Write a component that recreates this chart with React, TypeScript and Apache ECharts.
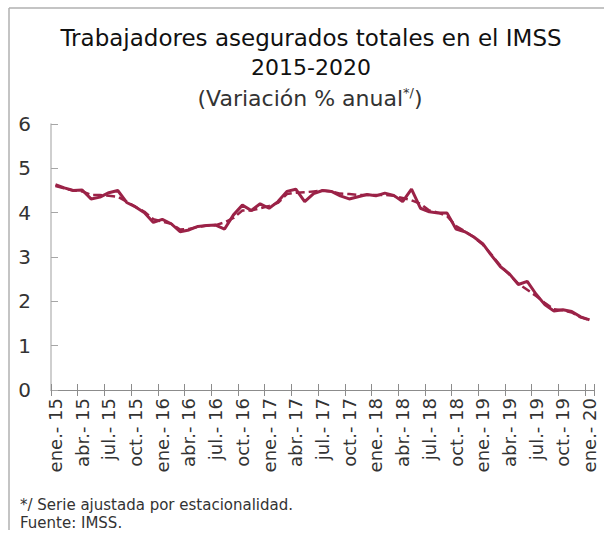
import React, { useEffect, useRef } from "react";
import * as echarts from "echarts";

const monthNames = ["ene.", "feb.", "mar.", "abr.", "may.", "jun.", "jul.", "ago.", "sep.", "oct.", "nov.", "dic."];
const years = ["15", "16", "17", "18", "19", "20"];
const categories: string[] = [];
years.forEach((y) => monthNames.forEach((m) => categories.push(m + "- " + y)));
const cats = categories.slice(0, 61);

const original = [
  4.63, 4.56, 4.5, 4.51, 4.31, 4.35, 4.45, 4.5, 4.23, 4.13, 4.0, 3.78,
  3.85, 3.75, 3.57, 3.61, 3.69, 3.71, 3.72, 3.63, 3.95, 4.17, 4.05, 4.2,
  4.1, 4.25, 4.48, 4.53, 4.25, 4.43, 4.5, 4.48, 4.38, 4.31, 4.36, 4.41,
  4.38, 4.44, 4.39, 4.25, 4.53, 4.1, 4.02, 3.99, 3.99, 3.63, 3.57, 3.45,
  3.3, 3.03, 2.78, 2.62, 2.38, 2.45, 2.16, 1.92, 1.78, 1.81, 1.77, 1.65,
  1.58,
];

const adjusted = [
  4.6, 4.55, 4.5, 4.48, 4.4, 4.4, 4.38, 4.36, 4.25, 4.13, 4.02, 3.85,
  3.8, 3.75, 3.62, 3.63, 3.68, 3.71, 3.72, 3.78, 3.88, 4.05, 4.05, 4.1,
  4.15, 4.22, 4.42, 4.45, 4.46, 4.48, 4.5, 4.48, 4.43, 4.42, 4.4, 4.4,
  4.4, 4.4, 4.38, 4.33, 4.28, 4.2, 4.05, 4.0, 3.92, 3.7, 3.58, 3.45,
  3.28, 3.05, 2.8, 2.6, 2.4, 2.26, 2.12, 1.96, 1.82, 1.8, 1.75, 1.64,
  1.58,
];

const yTicks = [0, 1, 2, 3, 4, 5, 6];

const FONT = "DejaVu Sans";
const COLOR = "#9b2247";

export default function App() {
  const ref = useRef<HTMLDivElement>(null);
  useEffect(() => {
    if (!ref.current) return;
    const chart = echarts.init(ref.current, null, { renderer: "svg" });
    chart.setOption({
      animation: false,
      textStyle: { fontFamily: FONT },
      grid: { left: 51, right: 10, top: 124, height: 266, containLabel: false },
      graphic: [
        { type: "line", shape: { x1: 9, y1: 8, x2: 604, y2: 8 }, style: { stroke: "#b0b0b0", lineWidth: 1.5 } },
        { type: "line", shape: { x1: 9, y1: 8, x2: 9, y2: 530 }, style: { stroke: "#b0b0b0", lineWidth: 1.5 } },
        {
          type: "text", x: 311, y: 38,
          style: { text: "Trabajadores asegurados totales en el IMSS", font: `23px "${FONT}"`, fill: "#111", align: "center", verticalAlign: "middle" },
        },
        {
          type: "text", x: 311, y: 67,
          style: { text: "2015-2020", font: `22px "${FONT}"`, fill: "#111", align: "center", verticalAlign: "middle" },
        },
        {
          type: "text", x: 310, y: 98,
          style: {
            text: "(Variación % anual{sup|*/}{p|)}",
            font: `22px "${FONT}"`, fill: "#333", align: "center", verticalAlign: "middle",
            rich: {
              sup: { fontSize: 13, fontFamily: FONT, fill: "#333", verticalAlign: "top", padding: [0, 0, 11, 0] },
              p: { fontSize: 22, fontFamily: FONT, fill: "#333" },
            },
          },
        },
        {
          type: "text", x: 20, y: 505,
          style: { text: "*/ Serie ajustada por estacionalidad.", font: `15px "${FONT}"`, fill: "#333", verticalAlign: "middle" },
        },
        {
          type: "text", x: 20, y: 523,
          style: { text: "Fuente: IMSS.", font: `15px "${FONT}"`, fill: "#333", verticalAlign: "middle" },
        },
      ],
      xAxis: [
        {
          type: "category",
          data: cats,
          boundaryGap: true,
          position: "bottom",
          axisLine: { show: true, onZero: false, lineStyle: { color: "#8c8c8c", width: 1 } },
          axisTick: { show: true, interval: 2, length: 6, inside: false, lineStyle: { color: "#8c8c8c", width: 1 } },
          axisLabel: { interval: 2, rotate: 90, fontSize: 18, color: "#333", margin: 8, fontFamily: FONT },
          splitLine: { show: false },
        },
        {
          type: "category",
          data: cats,
          boundaryGap: true,
          position: "bottom",
          axisLine: { show: false, onZero: false },
          axisTick: { show: true, interval: 2, length: 6, inside: true, lineStyle: { color: "#8c8c8c", width: 1 } },
          axisLabel: { show: false },
          splitLine: { show: false },
        },
      ],
      yAxis: {
        type: "value",
        min: yTicks[0],
        max: yTicks[yTicks.length - 1],
        interval: 1,
        axisLine: { show: true, lineStyle: { color: "#bfbfbf", width: 1.5 } },
        axisTick: { show: true, inside: true, length: 7, lineStyle: { color: "#a6a6a6", width: 1 } },
        axisLabel: { fontSize: 20, color: "#333", margin: 20, fontFamily: FONT },
        splitLine: { show: false },
      },
      series: [
        {
          type: "line",
          data: adjusted,
          xAxisIndex: 0,
          symbol: "none",
          lineStyle: { color: COLOR, width: 2.5, type: [9, 4] },
          z: 2,
        },
        {
          type: "line",
          data: original,
          xAxisIndex: 0,
          symbol: "none",
          lineStyle: { color: COLOR, width: 3 },
          z: 3,
        },
      ],
    });
    return () => chart.dispose();
  }, []);
  return <div ref={ref} style={{ position: "fixed", left: 0, top: 0, width: 604, height: 541, background: "#fff" }} />;
}
